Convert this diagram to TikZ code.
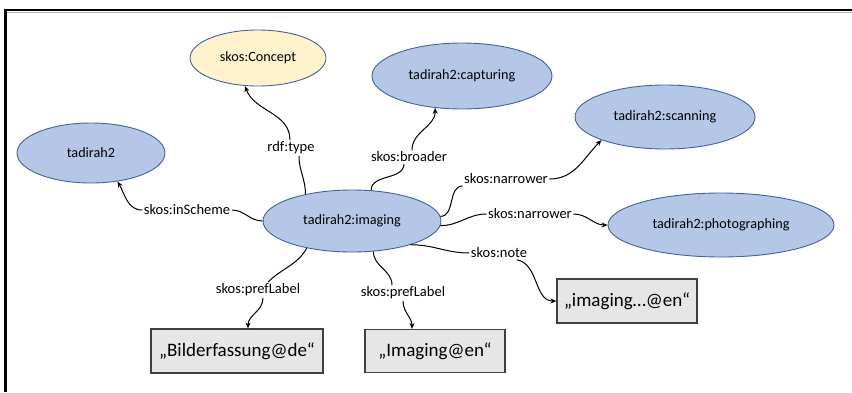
\documentclass[tikz,border=0pt]{standalone}
\usepackage{fontspec}
\setmainfont{Carlito}
\usetikzlibrary{shapes.geometric,arrows.meta}
\definecolor{ellfill}{HTML}{B4C7E7}
\definecolor{ellline}{HTML}{41639C}
\definecolor{conceptfill}{HTML}{FFF2CC}
\definecolor{boxfill}{HTML}{E7E6E6}
\definecolor{boxline}{HTML}{404040}
\begin{document}
\begin{tikzpicture}[x=1pt,y=-1pt,
  res/.style={ellipse, draw=ellline, fill=ellfill, line width=0.9pt, inner sep=0pt,
    font=\fontsize{14.2}{16}\selectfont},
  lit/.style={rectangle, draw=boxline, fill=boxfill, line width=1.2pt, inner sep=0pt,
    font=\fontsize{19}{22}\selectfont},
  prop/.style={inner sep=1.5pt, font=\fontsize{14.5}{16}\selectfont},
  edge/.style={line width=1pt, black},
  arr/.style={edge, -{Stealth[length=6pt,width=5pt]}}]
\useasboundingbox (0,0) rectangle (852,392);
% frame
\draw[line width=1pt, gray!60] (7,12.5) -- (852,12.5);
\draw[line width=2.6pt] (5.3,392) -- (5.3,9.8) -- (852,9.8);
% resources
\node[res, fill=conceptfill, minimum width=136pt, minimum height=56pt] (concept) at (258,58) {skos:Concept};
\node[res, minimum width=148pt, minimum height=60pt] (t2) at (91,153) {tadirah2};
\node[res, minimum width=180pt, minimum height=66pt] (cap) at (462,76) {tadirah2:capturing};
\node[res, minimum width=180pt, minimum height=64pt] (scan) at (665,117) {tadirah2:scanning};
\node[res, minimum width=226pt, minimum height=64pt] (photo) at (721,225) {tadirah2:photographing};
\node[res, minimum width=178pt, minimum height=62pt] (img) at (352,221) {tadirah2:imaging};
% literals
\node[lit, minimum width=172pt, minimum height=44pt] (bild) at (237,351) {„Bilderfassung@de“};
\node[lit, minimum width=140pt, minimum height=43pt] (imen) at (435,351) {„Imaging@en“};
\node[lit, minimum width=140pt, minimum height=44pt] (notebox) at (627,301) {„imaging…@en“};
% property labels
\node[prop] (lt) at (291,148) {rdf:type};
\node[prop] (lb) at (409,157) {skos:broader};
\node[prop] (lnu) at (506,179) {skos:narrower};
\node[prop] (lnl) at (530,214) {skos:narrower};
\node[prop] (lis) at (187,210) {skos:inScheme};
\node[prop] (lno) at (499,253) {skos:note};
\node[prop] (lp1) at (258,290) {skos:prefLabel};
\node[prop] (lp2) at (403,293) {skos:prefLabel};
% edges
\draw[edge] (img.150) to[out=90,in=-90] ([xshift=8pt]lt.south);
\draw[arr] ([xshift=-1pt]lt.north) to[out=90,in=-70] (concept.-115);
\draw[edge] (img.58) to[out=90,in=-90] ([xshift=-5pt]lb.south);
\draw[arr] ([xshift=3pt]lb.north) to[out=90,in=-90] (cap.-130);
\draw[edge] (img.3) to[out=0,in=180] ([yshift=-7pt]lnu.west);
\draw[arr] (lnu.east) to[out=0,in=-135] (scan.-160);
\draw[edge] (img.-3) to[out=0,in=180] (lnl.west);
\draw[arr] (lnl.east) to[out=0,in=180] (photo.west);
\draw[edge] (img.west) to[out=180,in=0] (lis.east);
\draw[arr] (lis.west) to[out=180,in=-60] (t2.-47);
\draw[edge] (img.-22) to[out=0,in=180] (lno.west);
\draw[arr] ([xshift=-12pt]lno.south east) to[out=-10,in=180] (notebox.west);
\draw[edge] (img.-149) to[out=-120,in=45] ([xshift=10pt]lp1.north);
\draw[arr] ([xshift=5pt]lp1.south) to[out=-90,in=90] ([xshift=11pt]bild.north);
\draw[edge] (img.-55) to[out=-90,in=90] ([xshift=-11pt]lp2.north);
\draw[arr] (lp2.south) to[out=-90,in=90] ([xshift=-23pt]imen.north);
\end{tikzpicture}
\end{document}
